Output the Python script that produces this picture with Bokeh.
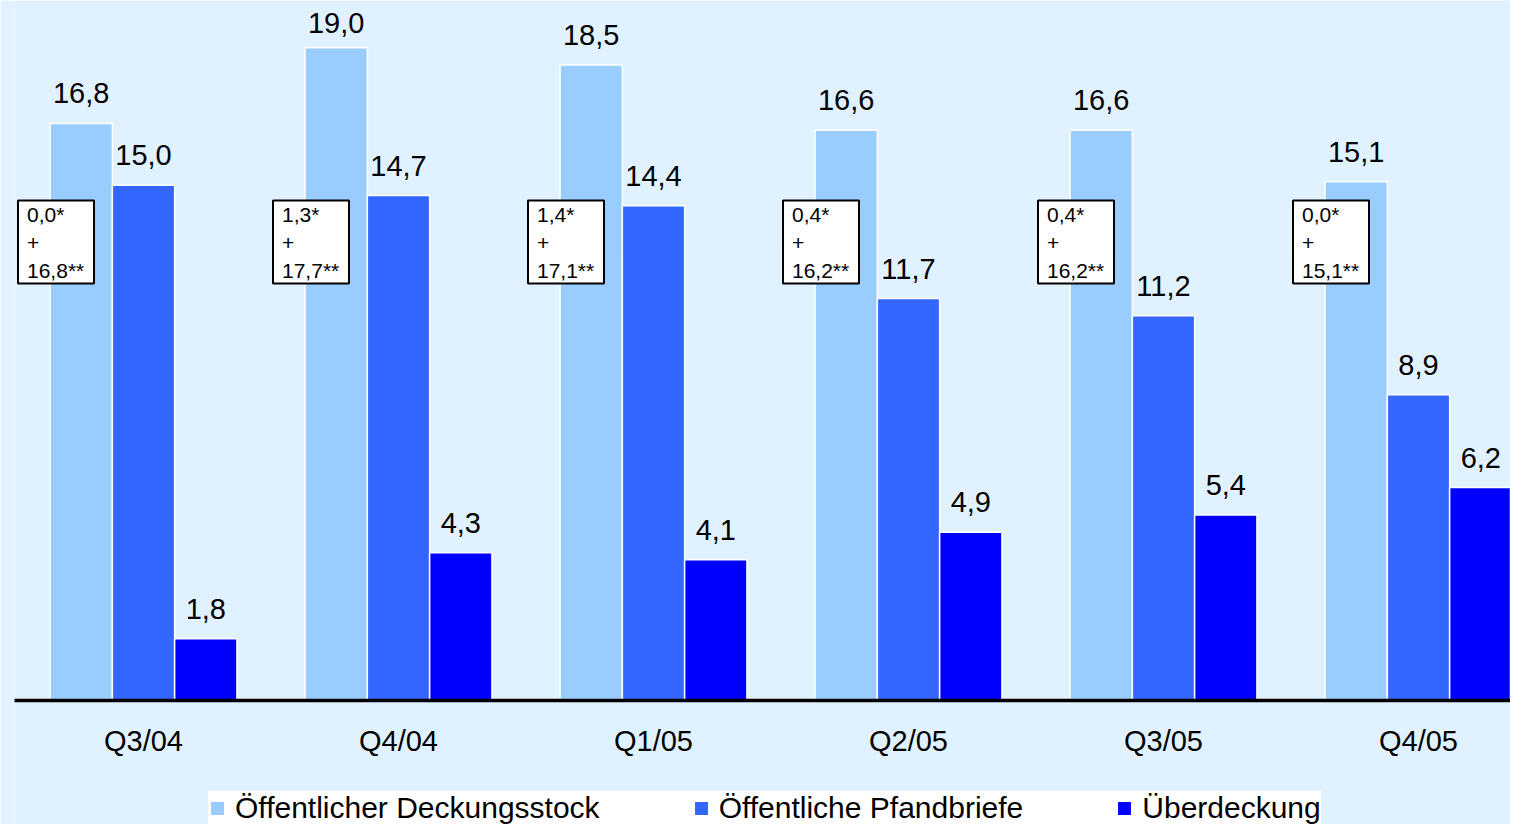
from bokeh.plotting import figure
from bokeh.models import Range1d, FixedTicker, Legend, LegendItem
from bokeh.core.properties import value
from bokeh.embed import file_html
from bokeh.resources import INLINE

# ---------------- data ----------------
categories = ["Q3/04", "Q4/04", "Q1/05", "Q2/05", "Q3/05", "Q4/05"]
deckungsstock = [16.8, 19.0, 18.5, 16.6, 16.6, 15.1]
pfandbriefe = [15.0, 14.7, 14.4, 11.7, 11.2, 8.9]
ueberdeckung = [1.8, 4.3, 4.1, 4.9, 5.4, 6.2]
stern1 = [0.0, 1.3, 1.4, 0.4, 0.4, 0.0]
stern2 = [16.8, 17.7, 17.1, 16.2, 16.2, 15.1]
series_names = ["Öffentlicher Deckungsstock", "Öffentliche Pfandbriefe", "Überdeckung"]
colors = ["#99CCFF", "#3366FF", "#0000FF"]

# ---------------- style / layout ----------------
BG = "#E0F2FF"
FONT = "Liberation Sans"
PX_PER_CAT = 255.0
BAR_W = 62.3 / PX_PER_CAT
LABEL_CAP = 18.86      # highest position a value label may take (chart top)
BOX_TOP = 14.556       # top edge of the component boxes (value units)
BOX_MID = 13.348       # vertical centre of the component boxes (value units)
def fmt(v):
    return f"{v:.1f}".replace(".", ",")

idx = list(range(len(categories)))

p = figure(width=1510, height=824, output_backend="svg", toolbar_location=None,
           x_range=Range1d(-0.5059, 5.3608), y_range=Range1d(-3.610, 20.378),
           y_axis_location=None, min_border_left=14, min_border_right=0,
           min_border_top=0, min_border_bottom=0)
p.background_fill_color = BG
p.border_fill_color = BG
p.outline_line_color = None
p.grid.visible = False

ax = p.xaxis[0]
ax.fixed_location = 0
ax.ticker = FixedTicker(ticks=idx)
ax.major_label_overrides = {i: c for i, c in zip(idx, categories)}
ax.major_tick_line_color = None
ax.minor_tick_line_color = None
ax.axis_line_width = 3.5
ax.axis_line_color = "black"
ax.axis_line_cap = "round"
ax.major_label_text_font = FONT
ax.major_label_text_font_size = "29px"
ax.major_label_text_color = "black"
ax.major_label_standoff = 19

series = [deckungsstock, pfandbriefe, ueberdeckung]
offsets = [-BAR_W, 0.0, BAR_W]
items = []
for vals, off, col, name in zip(series, offsets, colors, series_names):
    xs = [i + off for i in idx]
    r = p.vbar(x=xs, top=vals, bottom=0, width=BAR_W, fill_color=col,
               line_color="white", line_width=1.5)
    p.text(x=xs, y=[min(v, LABEL_CAP) for v in vals], text=[fmt(v) for v in vals],
           text_align="center", text_baseline="alphabetic", y_offset=-30,
           text_font=value(FONT), text_font_size="29px", text_color="black")
    items.append(LegendItem(label=name, renderers=[r]))

# annotation boxes (components of the Deckungsstock)
box_x = [i - 87.5 / PX_PER_CAT for i in idx]
p.rect(x=box_x, y=[BOX_MID] * len(idx), width=76, height=83,
       width_units="screen", height_units="screen",
       fill_color="white", line_color="black", line_width=2)
txt_x = [i - 116.5 / PX_PER_CAT for i in idx]
lines = [[fmt(v) + "*" for v in stern1], ["+"] * len(idx), [fmt(v) + "**" for v in stern2]]
line_off = [14, 43, 70]
for ln, off in zip(lines, line_off):
    p.text(x=txt_x, y=[BOX_TOP] * len(idx), text=ln, text_align="left",
           text_baseline="alphabetic", y_offset=off,
           text_font=value(FONT), text_font_size="21px", text_color="black")

legend = Legend(items=items, orientation="horizontal", location=(194, -1),
                background_fill_color="white", background_fill_alpha=1.0,
                border_line_color=None, padding=6, spacing=92, margin=0,
                glyph_width=18, glyph_height=18, label_standoff=9,
                label_text_font=FONT, label_text_font_size="30px",
                label_text_color="black")
p.add_layout(legend)

open("out.html", "w").write(file_html(p, INLINE))
